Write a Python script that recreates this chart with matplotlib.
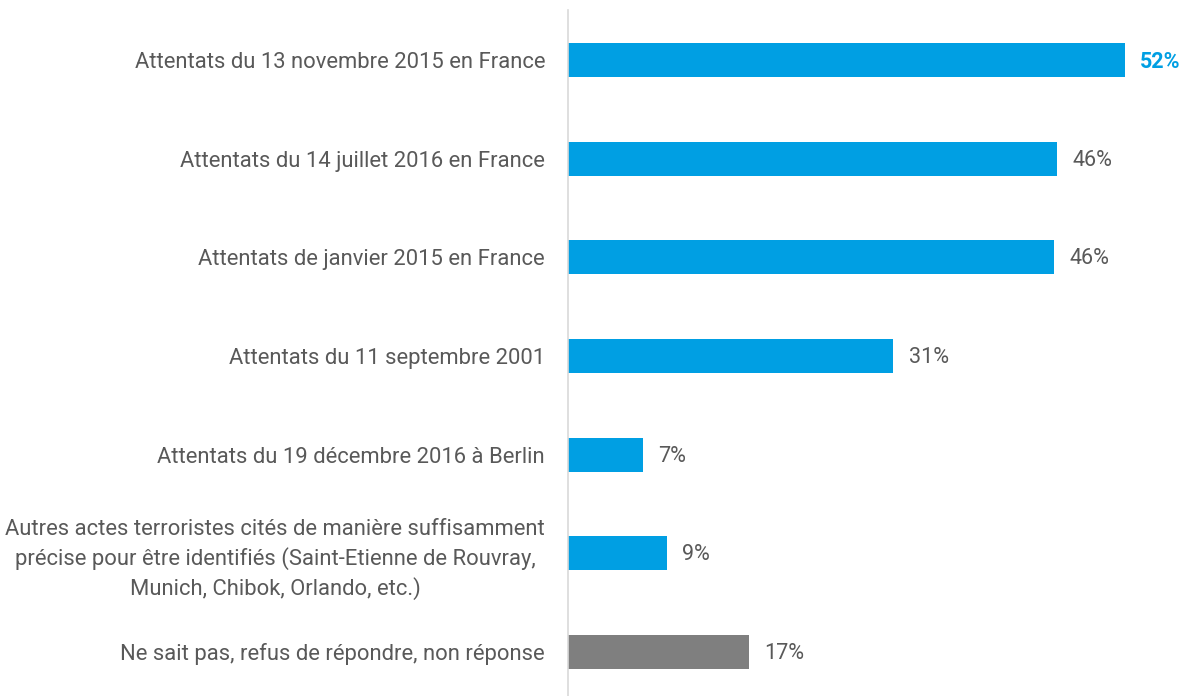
import matplotlib.pyplot as plt
from matplotlib import font_manager

# Font: narrow sans close to Calibri if available
names = {f.name for f in font_manager.fontManager.ttflist}
family = 'Liberation Sans Narrow' if 'Liberation Sans Narrow' in names else 'Roboto'
plt.rcParams['font.family'] = [family, 'DejaVu Sans']

categories = [
    'Attentats du 13 novembre 2015 en France',
    'Attentats du 14 juillet 2016 en France',
    'Attentats de janvier 2015 en France',
    'Attentats du 11 septembre 2001',
    'Attentats du 19 décembre 2016 à Berlin',
    'Autres actes terroristes cités de manière suffisamment\n'
    'précise pour être identifiés (Saint-Etienne de Rouvray,\n'
    'Munich, Chibok, Orlando, etc.)',
    'Ne sait pas, refus de répondre, non réponse',
]
values = [52.0, 45.7, 45.4, 30.4, 7.0, 9.2, 16.9]
labels = ['52%', '46%', '46%', '31%', '7%', '9%', '17%']

blue = '#009FE3'
grey = '#7F7F7F'
text_col = '#595959'
colors = [blue] * 6 + [grey]

fig = plt.figure(figsize=(11.89, 6.96), dpi=100)
ax = fig.add_axes([568 / 1189, 0, 1 - 568 / 1189, 1 - 10 / 696])

y = list(range(len(categories)))
ax.barh(y, values, height=0.345, color=colors)

ax.set_ylim(6.446, -0.507)
ax.set_xlim(0, 58.0)

for i, (v, lab) in enumerate(zip(values, labels)):
    if i == 0:
        ax.text(v + 1.45, i + 0.015, lab, va='center', ha='left', fontsize=15.5,
                color=blue, fontweight='bold')
    else:
        ax.text(v + 1.45, i + 0.015, lab, va='center', ha='left', fontsize=15.5,
                color=text_col)

ax.set_yticks(y)
ax.set_yticklabels(categories, fontsize=15.8, color=text_col,
                   multialignment='center', linespacing=1.38)
ax.tick_params(axis='y', length=0, pad=16.5)
ax.set_xticks([])

for s in ['top', 'right', 'bottom']:
    ax.spines[s].set_visible(False)
ax.spines['left'].set_color('#D9D9D9')
ax.spines['left'].set_linewidth(1.2)

fig.savefig('out.png', dpi=100)
